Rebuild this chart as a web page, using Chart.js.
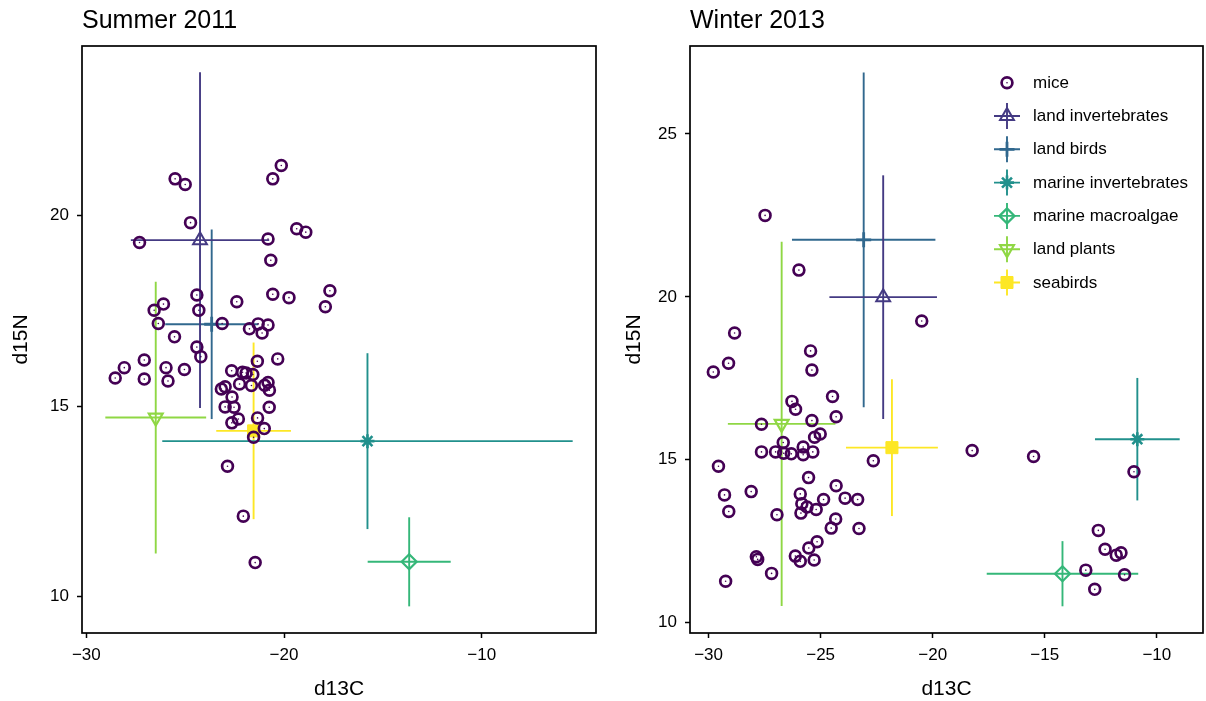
<!DOCTYPE html>
<html><head><meta charset="utf-8">
<script src="https://cdn.jsdelivr.net/npm/chart.js@4.4.1/dist/chart.umd.min.js"></script>
<style>
html,body{margin:0;padding:0;background:#fff;}
#wrap{position:relative;width:1206px;height:701px;overflow:hidden;}
.c{position:absolute;top:0;width:603px;height:701px;}
</style></head><body>
<div id="wrap">
<div class="c" style="left:0"><canvas id="c1" width="603" height="701"></canvas></div>
<div class="c" style="left:603px"><canvas id="c2" width="603" height="701"></canvas></div>
</div>
<script>
// ---- shared categories ----
const sourceNames = ['land invertebrates','land birds','marine invertebrates','marine macroalgae','land plants','seabirds'];
const sourceColors = ['#443A83','#31688E','#21908C','#35B779','#8FD744','#FDE725'];
const miceName = 'mice';
const miceColor = '#440154';

// ---- Summer 2011 ----
const summerTitle = 'Summer 2011';
const summerMiceC = [-20.14,-20.57,-25.51,-25.0,-24.73,-27.31,-20.81,-19.36,-18.90,-20.67,-17.68,-17.91,-20.57,-19.75,-24.41,-22.39,-26.10,-26.57,-24.31,-26.36,-23.13,-21.75,-21.31,-20.81,-21.11,-25.54,-24.41,-24.21,-21.35,-20.32,-27.07,-28.08,-28.54,-27.07,-25.97,-25.04,-25.87,-22.65,-22.10,-21.92,-21.58,-22.25,-21.65,-20.98,-20.81,-20.74,-23.17,-22.98,-22.63,-22.98,-22.53,-20.75,-22.31,-22.64,-21.34,-21.0,-21.54,-22.86,-22.06,-21.46];
const summerMiceN = [21.32,20.97,20.97,20.82,19.82,19.30,19.39,19.66,19.57,18.83,18.03,17.61,17.94,17.85,17.92,17.74,17.68,17.52,17.52,17.17,17.17,17.03,17.16,17.13,16.92,16.82,16.55,16.30,16.18,16.24,16.21,16.01,15.74,15.71,16.01,15.96,15.66,15.93,15.89,15.87,15.83,15.58,15.54,15.55,15.62,15.42,15.45,15.51,15.24,14.98,14.97,14.97,14.66,14.56,14.69,14.41,14.18,13.42,12.11,10.89];
const summerSrcC   = [-24.25,-23.66,-15.78,-13.67,-26.49,-21.54];
const summerSrcCsd = [3.5,2.35,10.38,2.1,2.55,1.89];
const summerSrcN   = [19.36,17.15,14.08,10.91,14.70,14.35];
const summerSrcNsd = [4.41,2.49,2.31,1.17,3.57,2.32];
const summerXRange = [-30.22,-4.22];
const summerYRange = [9.04,24.46];
const summerXTicks = [-30,-20,-10];
const summerYTicks = [10,15,20];

// ---- Winter 2013 ----
const winterTitle = 'Winter 2013';
const winterMiceC = [-27.48,-25.97,-20.49,-28.84,-29.11,-29.79,-25.45,-25.39,-24.47,-26.28,-26.12,-24.31,-25.39,-27.64,-25.27,-25.02,-26.67,-25.78,-27.64,-27.01,-26.65,-26.31,-25.78,-25.35,-22.65,-18.24,-29.56,-25.54,-24.31,-29.29,-28.1,-25.91,-23.91,-23.35,-24.87,-25.84,-25.61,-25.2,-25.88,-29.1,-26.95,-24.33,-24.53,-23.29,-25.16,-25.53,-27.87,-27.81,-26.13,-25.91,-25.29,-27.19,-29.24,-15.5,-11.02,-12.61,-12.31,-11.81,-11.6,-13.17,-11.44,-12.77];
const winterMiceN = [22.5,20.82,19.26,18.89,17.96,17.69,18.34,17.75,16.94,16.79,16.55,16.32,16.2,16.09,15.69,15.79,15.53,15.39,15.24,15.24,15.2,15.18,15.15,15.24,14.97,15.28,14.8,14.45,14.2,13.92,14.02,13.95,13.82,13.78,13.78,13.65,13.55,13.47,13.36,13.41,13.31,13.18,12.9,12.89,12.48,12.29,12.02,11.94,12.04,11.88,11.92,11.51,11.27,15.1,14.63,12.83,12.25,12.07,12.14,11.61,11.47,11.02];
const winterSrcC   = [-22.21,-23.08,-10.87,-14.21,-26.74,-21.82];
const winterSrcCsd = [2.4,3.2,1.89,3.38,2.4,2.05];
const winterSrcN   = [19.99,21.75,15.63,11.5,16.1,15.37];
const winterSrcNsd = [3.74,5.14,1.88,1.0,5.59,2.1];
const winterXRange = [-30.83,-7.94];
const winterYRange = [9.68,27.70];
const winterXTicks = [-30,-25,-20,-15,-10];
const winterYTicks = [10,15,20,25];

// ---- styles ----
const FONT = "'Liberation Sans', Arial, Helvetica, sans-serif";
const markerStyles = [
  {pointStyle:'triangle', rotation:0, radius:8, borderWidth:2, fill:false},
  {pointStyle:'cross', rotation:0, radius:7.5, borderWidth:2.8, fill:false},
  {pointStyle:'star', rotation:0, radius:7, borderWidth:2.6, fill:false},
  {pointStyle:'rectRot', rotation:0, radius:7.5, borderWidth:2.2, fill:false},
  {pointStyle:'triangle', rotation:180, radius:8, borderWidth:2.2, fill:false},
  {pointStyle:'rect', rotation:0, radius:8.5, borderWidth:1, fill:true}
];
const miceStyle = {pointStyle:'circle', rotation:0, radius:5.4, borderWidth:2.7, fill:false};
const barWidth = 1.9;

function fmt(v){ return v < 0 ? '\u2212' + Math.abs(v) : String(v); }

const framePlugin = {
  id:'frame',
  afterDatasetsDraw(chart){
    const a = chart.chartArea, ctx = chart.ctx;
    ctx.save(); ctx.strokeStyle = '#000'; ctx.lineWidth = 1.7;
    ctx.strokeRect(a.left, a.top, a.right - a.left, a.bottom - a.top);
    ctx.restore();
  }
};
const titlePlugin = {
  id:'paneltitle',
  afterDraw(chart, args, opts){
    const ctx = chart.ctx;
    ctx.save(); ctx.fillStyle = '#000'; ctx.font = '25px ' + FONT;
    ctx.textAlign = 'left'; ctx.textBaseline = 'alphabetic';
    ctx.fillText(opts.text, chart.chartArea.left, 28);
    ctx.restore();
  }
};
const keyPlugin = {
  id:'keybox',
  afterDraw(chart, args, opts){
    if (!opts.show) return;
    const ctx = chart.ctx, a = chart.chartArea;
    const mx = a.left + 317, ty = a.top + 36.7, step = 33.3, tx = a.left + 343;
    const names = [miceName].concat(sourceNames);
    const cols = [miceColor].concat(sourceColors);
    const styles = [miceStyle].concat(markerStyles);
    names.forEach((nm, i) => {
      const y = ty + i * step;
      ctx.save();
      ctx.strokeStyle = cols[i]; ctx.fillStyle = cols[i];
      if (i > 0) {
        ctx.lineWidth = barWidth;
        ctx.beginPath(); ctx.moveTo(mx - 13, y); ctx.lineTo(mx + 13, y);
        ctx.moveTo(mx, y - 13); ctx.lineTo(mx, y + 13); ctx.stroke();
      }
      const s = styles[i];
      ctx.lineWidth = s.borderWidth;
      ctx.fillStyle = s.fill ? cols[i] : 'rgba(0,0,0,0)';
      Chart.helpers.drawPoint(ctx, {pointStyle:s.pointStyle, rotation:s.rotation, radius:s.radius, borderWidth:s.borderWidth}, mx, y);
      if (i === 0) { ctx.fillStyle = cols[i]; ctx.beginPath(); ctx.arc(mx, y, 0.8, 0, Math.PI*2); ctx.fill(); }
      ctx.fillStyle = '#000'; ctx.font = '17px ' + FONT;
      ctx.textAlign = 'left'; ctx.textBaseline = 'middle';
      ctx.fillText(nm, tx, y + 0.5);
      ctx.restore();
    });
  }
};

function buildDatasets(mC, mN, sC, sCsd, sN, sNsd){
  const ds = [];
  const miceData = mC.map((c, i) => ({x:c, y:mN[i]}));
  ds.push({label:miceName, data:miceData, pointStyle:'circle', pointRadius:miceStyle.radius,
    pointBorderWidth:miceStyle.borderWidth, pointBorderColor:miceColor, pointBackgroundColor:'rgba(255,255,255,0)', order:0});
  ds.push({label:miceName+' centre', data:miceData, pointStyle:'circle', pointRadius:0.8,
    pointBorderWidth:0, pointBackgroundColor:miceColor, order:0});
  sourceNames.forEach((nm, i) => {
    const st = markerStyles[i];
    ds.push({label:nm, data:[{x:sC[i], y:sN[i]}], pointStyle:st.pointStyle, rotation:st.rotation,
      pointRadius:st.radius, pointBorderWidth:st.borderWidth, pointBorderColor:sourceColors[i],
      pointBackgroundColor: st.fill ? sourceColors[i] : 'rgba(255,255,255,0)', order:1});
    ds.push({label:nm+' C', data:[{x:sC[i]-sCsd[i], y:sN[i]},{x:sC[i]+sCsd[i], y:sN[i]}], showLine:true,
      borderColor:sourceColors[i], borderWidth:barWidth, pointRadius:0, order:2});
    ds.push({label:nm+' N', data:[{x:sC[i], y:sN[i]-sNsd[i]},{x:sC[i], y:sN[i]+sNsd[i]}], showLine:true,
      borderColor:sourceColors[i], borderWidth:barWidth, pointRadius:0, order:2});
  });
  return ds;
}

function makeChart(id, title, ds, xr, yr, xt, yt, yWidth, padRight, yTitlePad, showKey){
  const tickFont = {family:FONT, size:17};
  const titleFont = {family:FONT, size:21};
  return new Chart(document.getElementById(id), {
    type:'scatter',
    data:{datasets:ds},
    options:{
      responsive:false, animation:false, events:[],
      layout:{autoPadding:false, padding:{left:0, right:padRight, top:46, bottom:0}},
      plugins:{legend:{display:false}, tooltip:{enabled:false},
        paneltitle:{text:title}, keybox:{show:showKey}},
      scales:{
        x:{type:'linear', min:xr[0], max:xr[1],
          afterBuildTicks(s){ s.ticks = xt.map(v => ({value:v})); },
          afterFit(s){ s.height = 68; s.paddingLeft = 0; s.paddingRight = 0; },
          grid:{display:true, drawOnChartArea:false, drawTicks:true, tickLength:5, tickColor:'#000', tickWidth:1.5},
          border:{display:false},
          ticks:{color:'#000', font:tickFont, padding:7, maxRotation:0, callback:v => fmt(v)},
          title:{display:true, text:'d13C', color:'#000', font:titleFont, padding:{top:0,bottom:-1}}
        },
        y:{type:'linear', min:yr[0], max:yr[1],
          afterBuildTicks(s){ s.ticks = yt.map(v => ({value:v})); },
          afterFit(s){ s.width = yWidth; s.paddingTop = 0; s.paddingBottom = 0; },
          grid:{display:true, drawOnChartArea:false, drawTicks:true, tickLength:5, tickColor:'#000', tickWidth:1.5},
          border:{display:false},
          ticks:{color:'#000', font:tickFont, padding:8, callback:v => fmt(v)},
          title:{display:true, text:'d15N', color:'#000', font:titleFont, padding:{top:yTitlePad,bottom:0}}
        }
      }
    },
    plugins:[framePlugin, titlePlugin, keyPlugin]
  });
}

makeChart('c1', summerTitle,
  buildDatasets(summerMiceC, summerMiceN, summerSrcC, summerSrcCsd, summerSrcN, summerSrcNsd),
  summerXRange, summerYRange, summerXTicks, summerYTicks, 82, 7, 8.4, false);
makeChart('c2', winterTitle,
  buildDatasets(winterMiceC, winterMiceN, winterSrcC, winterSrcCsd, winterSrcN, winterSrcNsd),
  winterXRange, winterYRange, winterXTicks, winterYTicks, 87, 3, 18.4, true);
</script>
</body></html>
